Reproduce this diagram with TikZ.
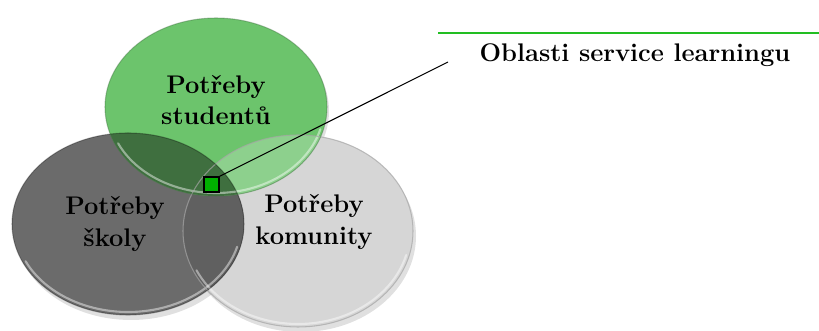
\documentclass[tikz,border=0pt]{standalone}
\usepackage{xcolor}
\usepackage{tikz}

\definecolor{zelena}{HTML}{6CC46C}
\definecolor{tmava}{HTML}{6B6B6B}
\definecolor{svetla}{HTML}{D6D6D6}
\definecolor{zeltm}{HTML}{3F6F3F}
\definecolor{zelsv}{HTML}{8DD08D}
\definecolor{tmsv}{HTML}{606060}
\definecolor{zelcara}{HTML}{22BE22}
\definecolor{ctverec}{HTML}{00B000}

\tikzset{
	popis/.style={font=\fontsize{14.5}{18}\selectfont\bfseries,align=center},
	stin/.style={fill=black,opacity=0.12},
	okraj/.style={draw=white,line width=1.2pt,opacity=0.45,line cap=round}
}

\begin{document}
\begin{tikzpicture}[
	thick
]
	\useasboundingbox (0,0) rectangle (16.38,6.62);
	% stiny
	\fill[stin] (6.02,1.90) ellipse (2.30 and 1.92);
	\fill[stin] (2.62,2.04) ellipse (2.32 and 1.82);
	\fill[stin] (4.36,4.40) ellipse (2.22 and 1.78);
	% kruhy
	\fill[svetla] (5.96,2.00) ellipse (2.30 and 1.92);
	\fill[tmava] (2.56,2.14) ellipse (2.32 and 1.82);
	\fill[zelena] (4.32,4.48) ellipse (2.22 and 1.78);
	% prekryvy
	\begin{scope}
		\clip (5.96,2.00) ellipse (2.30 and 1.92);
		\fill[tmsv] (2.56,2.14) ellipse (2.32 and 1.82);
		\fill[zelsv] (4.32,4.48) ellipse (2.22 and 1.78);
	\end{scope}
	\begin{scope}
		\clip (2.56,2.14) ellipse (2.32 and 1.82);
		\fill[zeltm] (4.32,4.48) ellipse (2.22 and 1.78);
	\end{scope}
	% okraje
	\draw[okraj] (5.96,2.00) ++(205:2.24 and 1.86) arc (205:345:2.24 and 1.86);
	\draw[okraj] (2.56,2.14) ++(205:2.26 and 1.76) arc (205:345:2.26 and 1.76);
	\draw[okraj] (4.32,4.48) ++(205:2.16 and 1.72) arc (205:345:2.16 and 1.72);
	\draw[tmava!60,line width=0.6pt,opacity=0.7] (5.96,2.00) ellipse (2.30 and 1.92);
	\draw[black,line width=0.6pt,opacity=0.3] (2.56,2.14) ellipse (2.32 and 1.82);
	\draw[zeltm,line width=0.6pt,opacity=0.4] (4.32,4.48) ellipse (2.22 and 1.78);
	% texty
	\node[popis] (stud) at (4.32,4.62) {Potřeby\\studentů};
	\node[popis] (skola) at (2.30,2.14) {Potřeby\\školy};
	\node[popis] (komun) at (6.28,2.18) {Potřeby\\komunity};
	\node[popis] (oblast) at (12.70,5.52) {Oblasti service learningu};
	% znacka a vodici cara
	\node[rectangle,draw=black,fill=ctverec,line width=0.8pt,minimum size=0.3cm,inner sep=0pt] (sq) at (4.23,2.93) {};
	\coordinate (konec) at (8.96,5.38);
	\coordinate (zacatek) at (8.76,5.96);
	\draw[black,line width=0.6pt] (sq.north east) -- (konec);
	\draw[zelcara,line width=1.2pt] (zacatek) -- (16.38,5.96);
\end{tikzpicture}
\end{document}
